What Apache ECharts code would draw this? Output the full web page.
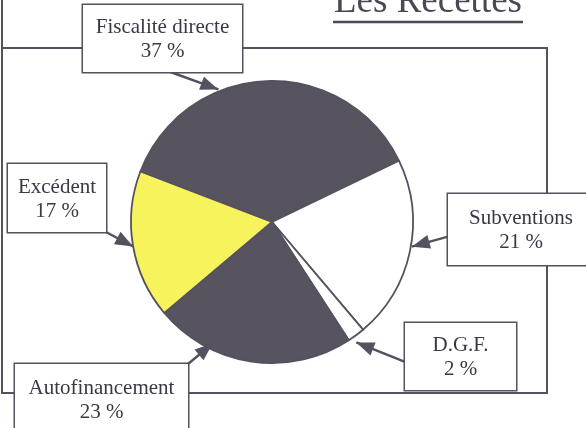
<!DOCTYPE html>
<html>
<head>
<meta charset="utf-8">
<script src="https://cdn.jsdelivr.net/npm/echarts@6/dist/echarts.min.js"></script>
<style>
html, body { margin: 0; padding: 0; background: #fff; }
#main { width: 586px; height: 428px; }
</style>
</head>
<body>
<div id="main"></div>
<script>
var categories = ["Fiscalité directe", "Subventions", "D.G.F.", "Autofinancement", "Excédent"];
var percents = [37, 21, 2, 23, 17];
var sliceColors = ["#57535f", "#ffffff", "#ffffff", "#57535f", "#f7f35c"];
// label boxes: left, top, width, height, top padding
var boxes = [
  [83, 5, 159, 67, 10],
  [448, 194, 146, 71, 12],
  [405, 323, 111, 67, 10],
  [15, 364, 173, 80, 12],
  [8, 164, 98, 68, 11]
];
// arrow: angle (deg) where it hits the circle, radial offset, attach point on box (fractions)
var arrows = [
  [112, 2, 0.55, 1],
  [-10, 1, 0, 0.6],
  [-55, 6, 0, 0.58],
  [-116, -6, 1, 0],
  [190, 0, 1, 1]
];

var ink = "#55515e";
var pieCenter = [272, 222];
var pieRadius = 141;
var chart = echarts.init(document.getElementById("main"));

var frame = [
  { id: "frame", type: "rect", shape: { x: 2, y: 48, width: 545, height: 345 }, style: { fill: "none", stroke: ink, lineWidth: 2 } },
  { id: "frameTop", type: "line", shape: { x1: 2, y1: 0, x2: 2, y2: 48 }, style: { stroke: ink, lineWidth: 2 } },
  { id: "title", type: "text", x: 428, y: 2.5, style: { text: "Les Recettes", font: "37px 'Liberation Serif'", fill: "#4a4756", align: "center", verticalAlign: "middle" } },
  { id: "underline", type: "line", shape: { x1: 333, y1: 22, x2: 523, y2: 22 }, style: { stroke: "#4a4756", lineWidth: 2.5 } }
];

var option = {
  animation: false,
  graphic: frame,
  series: [
    {
      type: "pie",
      center: pieCenter,
      radius: pieRadius,
      startAngle: 159,
      clockwise: true,
      avoidLabelOverlap: false,
      emphasis: { disabled: true },
      itemStyle: { borderColor: ink, borderWidth: 1.8 },
      label: {
        show: true,
        position: "outside",
        formatter: function (p) {
          return p.name + "\n" + p.value + " %";
        },
        fontFamily: "Liberation Serif",
        fontSize: 21,
        lineHeight: 24,
        color: "#3a3845",
        backgroundColor: "#fff",
        borderColor: ink,
        borderWidth: 1.5,
        align: "center"
      },
      labelLine: { show: true, length: 10, length2: 0, lineStyle: { color: ink, width: 2.5 } },
      labelLayout: function (p) {
        var b = boxes[p.dataIndex];
        var a = arrows[p.dataIndex];
        var ang = a[0] * Math.PI / 180;
        var r = pieRadius + a[1];
        var tip = [pieCenter[0] + r * Math.cos(ang), pieCenter[1] - r * Math.sin(ang)];
        var start = [b[0] + a[2] * b[2], b[1] + a[3] * b[3]];
        return {
          x: b[0] + b[2] / 2,
          y: b[1],
          align: "center",
          verticalAlign: "top",
          labelLinePoints: [tip, start]
        };
      },
      data: categories.map(function (name, i) {
        var b = boxes[i];
        return {
          name: name,
          value: percents[i],
          itemStyle: { color: sliceColors[i] },
          label: { width: b[2], height: b[3] - b[4], padding: [b[4], 0, 0, 0] }
        };
      })
    }
  ]
};

chart.setOption(option);

// arrow heads at the pie end of each label line
var data = chart.getModel().getSeriesByIndex(0).getData();
var heads = [];
data.each(function (i) {
  var el = data.getItemGraphicEl(i);
  var line = el && el.getTextGuideLine();
  if (!line) return;
  var pts = line.shape.points;
  var tip = pts[0], from = pts[pts.length - 1];
  var dx = tip[0] - from[0], dy = tip[1] - from[1];
  var len = Math.sqrt(dx * dx + dy * dy) || 1;
  dx /= len; dy /= len;
  var bx = tip[0] - dx * 18, by = tip[1] - dy * 18;
  heads.push({
    id: "head" + i,
    type: "polygon",
    z: 100,
    shape: { points: [tip, [bx - dy * 7, by + dx * 7], [bx + dy * 7, by - dx * 7]] },
    style: { fill: ink }
  });
});
chart.setOption({ graphic: frame.concat(heads) });
</script>
</body>
</html>
